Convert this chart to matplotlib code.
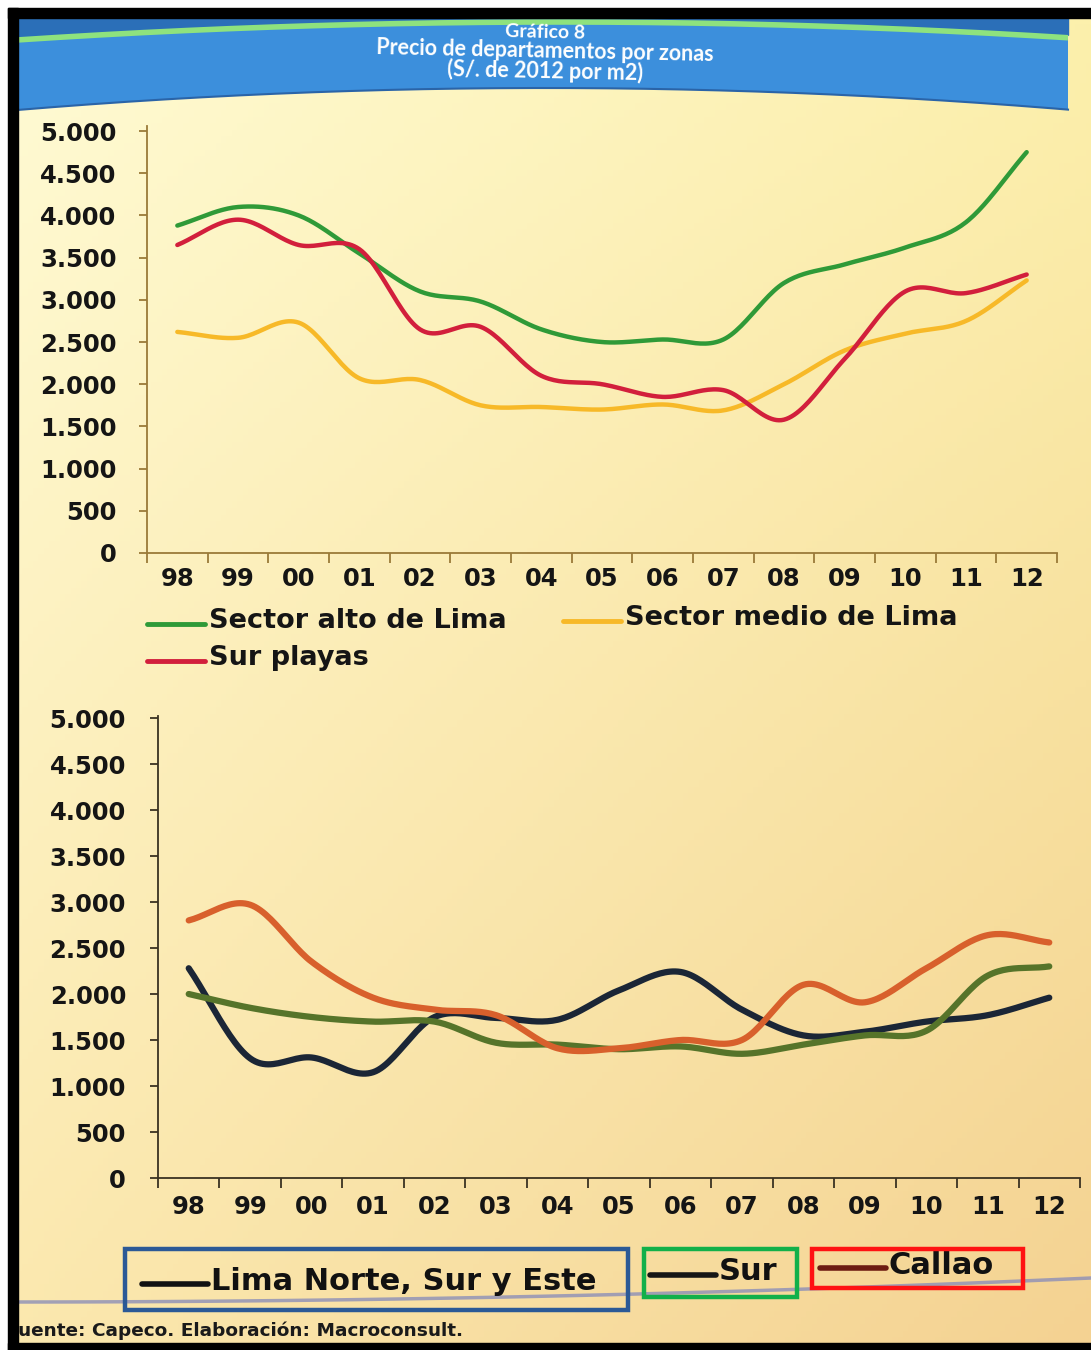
import numpy as np
import matplotlib
matplotlib.use("Agg")
import matplotlib.pyplot as plt
from matplotlib.patches import Polygon, Rectangle
from matplotlib.colors import to_rgb

# ---------------- data ----------------
years = ['98', '99', '00', '01', '02', '03', '04', '05', '06', '07', '08', '09', '10', '11', '12']
y_ticks = [0, 500, 1000, 1500, 2000, 2500, 3000, 3500, 4000, 4500, 5000]
y_tick_labels = ['0', '500', '1.000', '1.500', '2.000', '2.500', '3.000', '3.500', '4.000', '4.500', '5.000']

# upper panel (S/. de 2012 por m2)
sector_alto = [3880, 4100, 4000, 3550, 3100, 2980, 2650, 2500, 2530, 2530, 3200, 3420, 3620, 3920, 4750]
sector_medio = [2620, 2550, 2730, 2070, 2050, 1750, 1730, 1700, 1760, 1690, 2000, 2400, 2600, 2750, 3230]
sur_playas = [3650, 3950, 3650, 3600, 2650, 2680, 2100, 2000, 1850, 1930, 1580, 2300, 3100, 3080, 3300]

# lower panel
lima_nse = [2280, 1300, 1310, 1150, 1750, 1740, 1720, 2040, 2240, 1830, 1550, 1590, 1700, 1770, 1960]
sur = [2000, 1850, 1750, 1700, 1700, 1470, 1450, 1400, 1430, 1350, 1450, 1550, 1600, 2200, 2300]
callao = [2800, 2970, 2350, 1960, 1830, 1770, 1410, 1410, 1500, 1500, 2100, 1910, 2280, 2640, 2560]

top_labels = ['Sector alto de Lima', 'Sector medio de Lima', 'Sur playas']
bottom_labels = ['Lima Norte, Sur y Este', 'Sur', 'Callao']

title_lines = ['Gráfico 8', 'Precio de departamentos por zonas', '(S/. de 2012 por m2)']
source_text = 'uente: Capeco. Elaboración: Macroconsult.'

# ---------------- styles ----------------
W, H = 1091, 1350
top_colors = ['#2f9a38', '#f7b928', '#d21f3c']
bottom_colors = ['#1b2636', '#56742a', '#d8602c']
bottom_legend_colors = ['#121212', '#161616', '#6e1c12']
box_colors = ['#2b5996', '#12b04a', '#ff1212']
FONT = 'DejaVu Sans'


def smooth(xs, ys, n=24):
    """Catmull-Rom smoothing through the data points."""
    pts = np.column_stack([xs, ys]).astype(float)
    P = np.vstack([2 * pts[0] - pts[1], pts, 2 * pts[-1] - pts[-2]])
    t = np.linspace(0, 1, n, endpoint=False)[:, None]
    segs = []
    for i in range(1, len(P) - 2):
        p0, p1, p2, p3 = P[i - 1], P[i], P[i + 1], P[i + 2]
        segs.append(0.5 * (2 * p1 + (-p0 + p2) * t + (2 * p0 - 5 * p1 + 4 * p2 - p3) * t ** 2
                           + (-p0 + 3 * p1 - 3 * p2 + p3) * t ** 3))
    segs.append(P[-2][None])
    s = np.vstack(segs)
    return s[:, 0], s[:, 1]


fig = plt.figure(figsize=(W / 100, H / 100), dpi=100)
fig.patch.set_facecolor('white')

# ---------------- page background ----------------
bg = fig.add_axes([0, 0, 1, 1], zorder=0)
bg.set_xlim(0, W)
bg.set_ylim(H, 0)
bg.axis('off')

tl, tr = np.array(to_rgb('#fffbd4')), np.array(to_rgb('#fcf0ac'))
bl, br = np.array(to_rgb('#fbe8ae')), np.array(to_rgb('#f4d292'))
gy, gx = np.mgrid[0:1:200j, 0:1:200j]
grad = ((1 - gy)[..., None] * ((1 - gx)[..., None] * tl + gx[..., None] * tr)
        + gy[..., None] * ((1 - gx)[..., None] * bl + gx[..., None] * br))
bg.imshow(grad, extent=[17, W, H - 6, 17], aspect='auto', zorder=0)

# black frame
bg.add_patch(Rectangle((8, 8), W, 10, color='black', zorder=5))
bg.add_patch(Rectangle((8, 8), 10, H, color='black', zorder=5))
bg.add_patch(Rectangle((8, H - 7), W, 10, color='black', zorder=5))

# curved blue banner
bx = np.linspace(17, 1068, 200)
bottom_edge = 88 + 7.9e-5 * (bx - 545) ** 2
banner = np.vstack([np.column_stack([bx, np.full_like(bx, 17)]),
                    np.column_stack([bx[::-1], bottom_edge[::-1]])])
bg.add_patch(Polygon(banner, closed=True, facecolor='#3c8fdc', edgecolor='none', zorder=2))
stripe = 22 + 6.1e-5 * (bx - 560) ** 2
bg.fill_between(bx, 17, stripe - 3, color='#2b6fb8', zorder=3)
bg.plot(bx, stripe, color='#8ee27e', lw=4, zorder=4, solid_capstyle='butt')
bg.plot(bx, bottom_edge, color='#2a64a8', lw=1.5, zorder=3)

title_sizes = [14, 15.5, 15.5]
for i, (line, fs) in enumerate(zip(title_lines, title_sizes)):
    bg.text(545, 32 + i * 19.5, line, color='white', fontsize=fs, fontweight='bold',
            family='Lato', ha='center', va='center', rotation=-1.2, zorder=6)

# printed page edge near the bottom
ex = np.linspace(17, W, 100)
edge_y = 1302 - 24.0 * ((ex - 17) / (W - 17)) ** 2
bg.plot(ex, edge_y, color='#8c8fb8', lw=2.5, alpha=0.8, zorder=2)

bg.text(18, 1331, source_text, fontsize=13.3, fontweight='bold', family=FONT,
        ha='left', va='center', color='#1a1a1a', zorder=6)


def style_axes(ax, spine_color, tick_size, xpad, ypad):
    ax.set_facecolor('none')
    for side in ('top', 'right'):
        ax.spines[side].set_visible(False)
    for side in ('left', 'bottom'):
        ax.spines[side].set_color(spine_color)
        ax.spines[side].set_linewidth(1.3)
    ax.set_xlim(-0.5, len(years) - 0.5)
    ax.set_xticks(range(len(years)))
    ax.set_xticklabels(years)
    ax.set_xticks(np.arange(-0.5, len(years), 1.0), minor=True)
    ax.tick_params(axis='x', which='major', length=0, pad=xpad)
    ax.tick_params(axis='x', which='minor', length=7, width=1.3, color=spine_color, direction='out')
    ax.set_yticks(y_ticks)
    ax.set_yticklabels(y_tick_labels)
    ax.tick_params(axis='y', length=6, width=1.3, color=spine_color, pad=ypad)
    for lab in ax.get_xticklabels() + ax.get_yticklabels():
        lab.set_fontsize(tick_size)
        lab.set_fontweight('bold')
        lab.set_family(FONT)
        lab.set_color('#151515')


# ---------------- upper panel ----------------
ax1 = fig.add_axes([147 / W, 1 - 553 / H, 910 / W, 427 / H], zorder=3)
ax1.set_ylim(0, 5060)
style_axes(ax1, '#9a7a38', 17.5, 10, 16)
xs = np.arange(len(years))
for vals, col in zip([sector_alto, sector_medio, sur_playas], top_colors):
    sx, sy = smooth(xs, vals)
    ax1.plot(sx, sy, color=col, lw=3.2, solid_capstyle='round', zorder=3)

# ---------------- lower panel ----------------
ax2 = fig.add_axes([158 / W, 1 - 1178 / H, 922 / W, 462 / H], zorder=3)
ax2.set_ylim(0, 5022)
style_axes(ax2, '#3a3222', 17.5, 12, 17)
for vals, col in zip([lima_nse, sur, callao], bottom_colors):
    sx, sy = smooth(xs, vals)
    ax2.plot(sx, sy, color=col, lw=4.5, solid_capstyle='round', zorder=3)

# ---------------- legends ----------------
top_leg_pos = [(147, 624), (563, 621), (147, 661)]
for (x0, y0), lab, col in zip(top_leg_pos, top_labels, top_colors):
    bg.plot([x0, x0 + 58], [y0, y0], color=col, lw=3.5, zorder=6, solid_capstyle='round')
    bg.text(x0 + 62, y0 - 3, lab, fontsize=19.5, fontweight='bold', family=FONT,
            ha='left', va='center', color='#151515', zorder=6)

bottom_leg_pos = [(142, 1284), (650, 1275), (820, 1268)]
for (x0, y0), lab, col in zip(bottom_leg_pos, bottom_labels, bottom_legend_colors):
    bg.plot([x0, x0 + 66], [y0, y0], color=col, lw=4, zorder=6, solid_capstyle='round')
    bg.text(x0 + 69, y0 - 3, lab, fontsize=22, fontweight='bold', family=FONT,
            ha='left', va='center', color='#111111', zorder=6)

boxes = [(125, 1249, 503, 61), (644, 1249, 153, 48), (812, 1249, 211, 39)]
for (x0, y0, w, h), col in zip(boxes, box_colors):
    bg.add_patch(Rectangle((x0, y0), w, h, fill=False, edgecolor=col, lw=3.2, zorder=7))

fig.savefig('out.png', dpi=100)
